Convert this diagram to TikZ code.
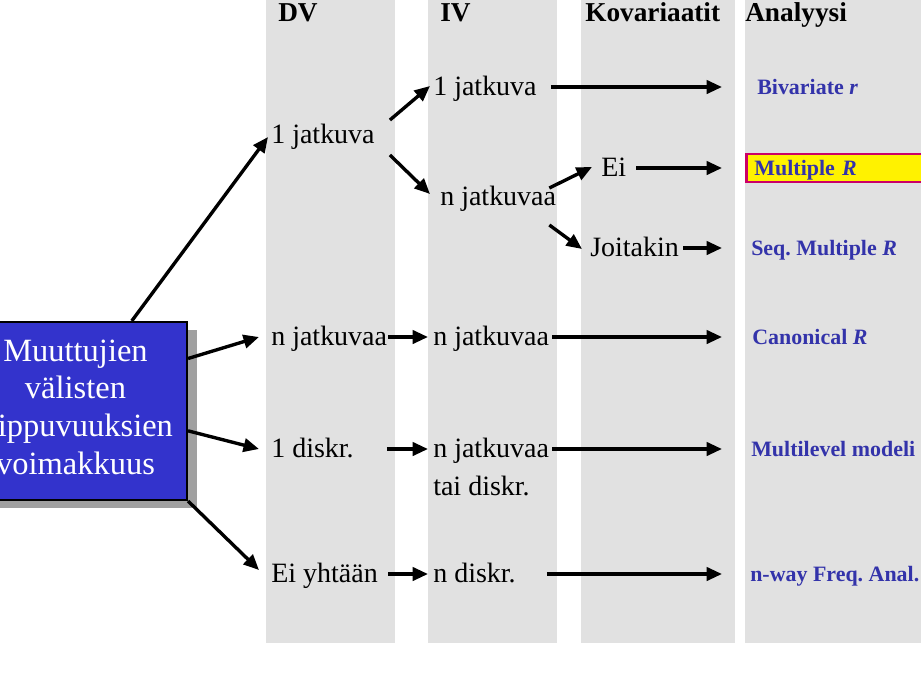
\documentclass[tikz,border=0pt]{standalone}
\usepackage{fontspec}
\setmainfont{Liberation Serif}
\usetikzlibrary{arrows.meta,shadows}

\definecolor{colgray}{RGB}{225,225,225}
\definecolor{boxblue}{RGB}{51,51,204}
\definecolor{anablue}{RGB}{51,51,170}
\definecolor{hilite}{RGB}{204,0,102}
\definecolor{shadowgray}{RGB}{160,160,160}

\frenchspacing

\begin{document}
\begin{tikzpicture}[x=0.025cm,y=-0.025cm]
	\tikzset{%
		arr/.style={-{Triangle[length=11pt,width=9.5pt]},line width=2.4pt},
		txt/.style={inner sep=0pt,anchor=west,text height=0.5cm,text depth=0.1cm,font=\fontsize{19.9}{27}\selectfont},
		head/.style={inner sep=0pt,anchor=base west,font=\fontsize{19.4}{24}\selectfont\bfseries},
		ana/.style={inner sep=0pt,anchor=west,text height=0.4cm,text depth=0.05cm,text=anablue,font=\fontsize{15.6}{20}\selectfont\bfseries},
	}

	\useasboundingbox (0,0) rectangle (921,691);

	% grey columns
	\foreach \xa/\xb in {266/395,428/557,581/735,745/940}
		\fill[colgray] (\xa,0) rectangle (\xb,643);

	\node[head] (hdv) at (278,21) {DV};
	\node[head] (hiv) at (440,21) {IV};
	\node[head] (hkov) at (585,21) {Kovariaatit};
	\node[head] (hana) at (745,21) {Analyysi};

	\node[draw=black,line width=1.5pt,fill=boxblue,text=white,align=center,
		minimum width=5.575cm,minimum height=4.45cm,inner sep=0pt,
		font=\fontsize{23.1}{26.7}\selectfont,
		drop shadow={opacity=1,fill=shadowgray,shadow xshift=0.25cm,shadow yshift=-0.2cm}]
		(box) at (75.5,411) {Muuttujien\\välisten\\riippuvuuksien\\voimakkuus\\[-21pt]};

	% DV
	\node[txt] (dv1) at (271,135) {1 jatkuva};
	\node[txt] (dvn) at (271,337) {n jatkuvaa};
	\node[txt] (dvd) at (271,449) {1 diskr.};
	\node[txt] (dve) at (271,574) {Ei yhtään};

	% IV
	\node[txt] (iv1) at (433,87) {1 jatkuva};
	\node[txt] (ivn) at (440,197) {n jatkuvaa};
	\node[txt] (ivn2) at (433,337) {n jatkuvaa};
	\node[txt] (ivm) at (433,449) {n jatkuvaa};
	\node[txt] (ivmb) at (433,487) {tai diskr.};
	\node[txt] (ivd) at (433,574) {n diskr.};

	% Kovariaatit
	\node[txt] (kei) at (601,168) {Ei};
	\node[txt] (kjo) at (590,248) {Joitakin};

	% Analyysi
	\node[ana] (abiv) at (757,87) {Bivariate \textit{r}};
	\node[ana,fill=yellow,draw=hilite,line width=2.1pt,inner xsep=0.2cm,
		minimum height=0.7cm,text width=5cm,align=left] (amul) at (745,168) {Multiple \textit{R}};
	\node[ana] (aseq) at (751,248) {Seq. Multiple \textit{R}};
	\node[ana] (acan) at (752,337) {Canonical \textit{R}};
	\node[ana] (amlm) at (751,449) {Multilevel modeli};
	\node[ana] (afrq) at (750,574) {n-way Freq. Anal.};

	\draw[arr] (box.58) -- ([shift={(-3,2)}]dv1.west);
	\draw[arr] (box.25) -- ([shift={(-12,0)}]dvn.west);
	\draw[arr] (box.-10) -- ([shift={(-12,0)}]dvd.west);
	\draw[arr] (box.south east) -- ([shift={(-12,-4)}]dve.west);

	\draw[arr] ([shift={(15,-15)}]dv1.east) -- ([shift={(-3,-1)}]iv1.west);
	\draw[arr] ([shift={(15,20)}]dv1.east) -- ([shift={(-10,-3)}]ivn.west);
	\draw[arr] ([shift={(-7,-9)}]ivn.east) -- ([shift={(-9,-1)}]kei.west);
	\draw[arr] ([shift={(-7,28)}]ivn.east) -- ([shift={(-8,1)}]kjo.west);

	\draw[arr] ([shift={(14,0)}]iv1.east) -- ([shift={(-35,0)}]abiv.west);
	\draw[arr] ([shift={(10,0)}]kei.east) -- ([shift={(-23,0)}]amul.west);
	\draw[arr] ([shift={(4,0)}]kjo.east) -- ([shift={(-29,0)}]aseq.west);
	\draw[arr] ([shift={(1,0)}]dvn.east) -- ([shift={(-5,0)}]ivn2.west);
	\draw[arr] ([shift={(3,0)}]ivn2.east) -- ([shift={(-30,0)}]acan.west);
	\draw[arr] ([shift={(33,0)}]dvd.east) -- ([shift={(-5,0)}]ivm.west);
	\draw[arr] ([shift={(3,0)}]ivm.east) -- ([shift={(-29,0)}]amlm.west);
	\draw[arr] ([shift={(10,0)}]dve.east) -- ([shift={(-5,0)}]ivd.west);
	\draw[arr] ([shift={(31,0)}]ivd.east) -- ([shift={(-28,0)}]afrq.west);
\end{tikzpicture}
\end{document}
